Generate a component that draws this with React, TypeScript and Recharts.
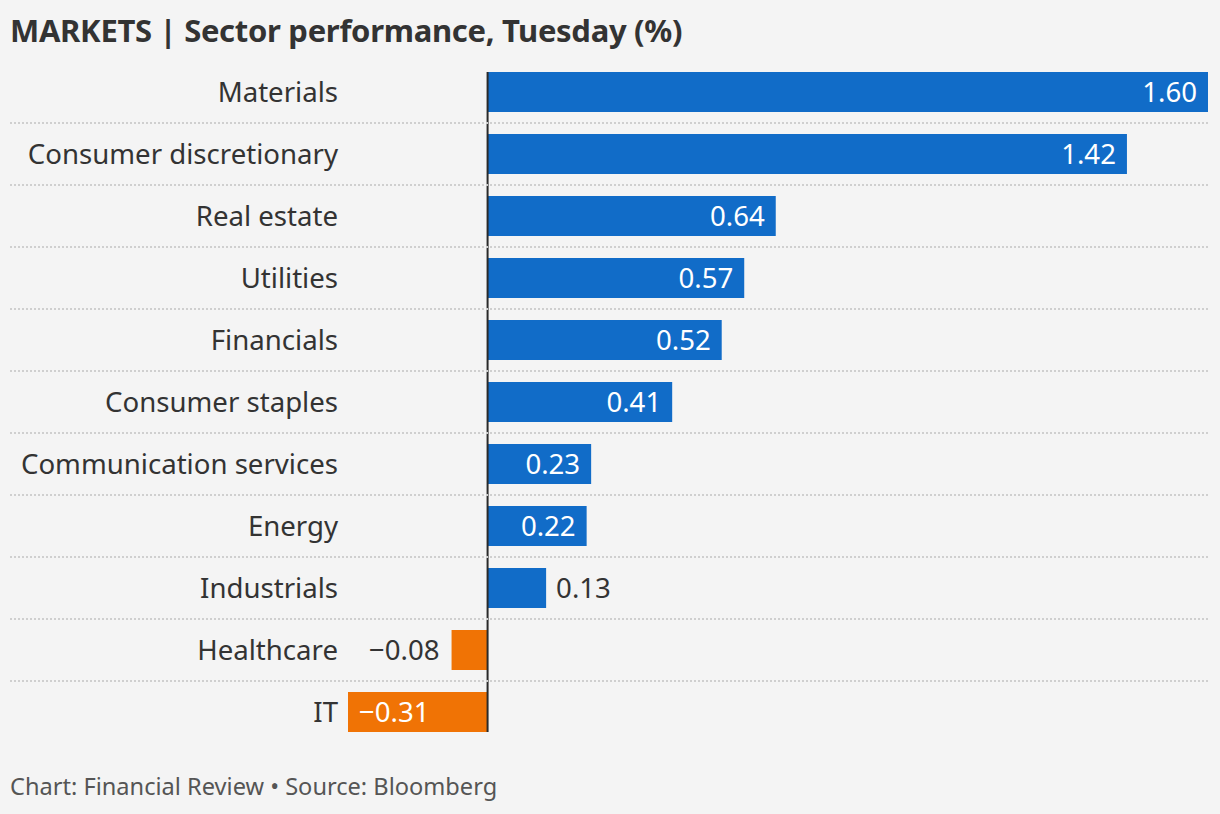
import React from "react";
import { BarChart, Bar, XAxis, YAxis, Cell, LabelList, ReferenceLine } from "recharts";

const sectors = [
  "Materials",
  "Consumer discretionary",
  "Real estate",
  "Utilities",
  "Financials",
  "Consumer staples",
  "Communication services",
  "Energy",
  "Industrials",
  "Healthcare",
  "IT",
];
const changes = [1.6, 1.42, 0.64, 0.57, 0.52, 0.41, 0.23, 0.22, 0.13, -0.08, -0.31];

const data = sectors.map((name, i) => ({ name, value: changes[i] }));

const FONT = "'Noto Sans', 'DejaVu Sans', sans-serif";
const BLUE = "#116cc8";
const ORANGE = "#f07305";
const TEXT = "#333333";
const W = 1220;
const H = 814;
const TOP = 61;
const BOTTOM = 71;
const PLOT_H = H - TOP - BOTTOM;
const ROW_H = PLOT_H / sectors.length;

const fmt = (v: number) => (v < 0 ? "\u2212" : "") + Math.abs(v).toFixed(2);

const CategoryTick = (props: any) => {
  const { y, payload, index } = props;
  return (
    <g>
      {index > 0 && (
        <line
          x1={10}
          x2={1208}
          y1={y - ROW_H / 2}
          y2={y - ROW_H / 2}
          stroke="#cfcfcf"
          strokeWidth={2}
          strokeDasharray="2 2"
        />
      )}
      <text
        x={338}
        y={y}
        dy="0.35em"
        textAnchor="end"
        fill={TEXT}
        fontSize={27.6}
        fontFamily={FONT}
      >
        {payload.value}
      </text>
    </g>
  );
};

const ValueLabel = (props: any) => {
  const { x, y, width, height, value } = props;
  const left = Math.min(x, x + width);
  const right = Math.max(x, x + width);
  const w = right - left;
  const cy = y + height / 2;
  const fits = w > 80;
  const v = Number(value);
  let tx: number;
  let anchor: "start" | "end";
  let fill: string;
  if (v >= 0) {
    if (fits) {
      tx = right - 11;
      anchor = "end";
      fill = "#ffffff";
    } else {
      tx = right + 10;
      anchor = "start";
      fill = TEXT;
    }
  } else {
    if (fits) {
      tx = left + 11;
      anchor = "start";
      fill = "#ffffff";
    } else {
      tx = left - 12;
      anchor = "end";
      fill = TEXT;
    }
  }
  return (
    <text x={tx} y={cy} dy="0.35em" textAnchor={anchor} fill={fill} fontSize={27.6} fontFamily={FONT}>
      {fmt(v)}
    </text>
  );
};

const ZeroLine = (props: any) => {
  const { x1, x2, y1, y2 } = props;
  const top = Math.min(y1, y2);
  const bot = Math.max(y1, y2);
  return <line x1={x1} x2={x2} y1={top + 11} y2={bot - 11} stroke="#2a2a2a" strokeWidth={2} />;
};

export default function App() {
  return (
    <div
      style={{
        position: "fixed",
        left: 0,
        top: 0,
        width: W,
        height: H,
        background: "#f4f4f4",
        fontFamily: FONT,
        overflow: "hidden",
      }}
    >
      <div
        style={{
          position: "absolute",
          left: 10,
          top: 8,
          fontSize: 31,
          fontWeight: 700,
          color: "#333333",
          letterSpacing: -0.3,
          whiteSpace: "nowrap",
          lineHeight: "44px",
        }}
      >
        MARKETS | Sector performance, Tuesday (%)
      </div>
      <div style={{ position: "absolute", left: 0, top: 0 }}>
        <BarChart
          width={W}
          height={H}
          data={data}
          layout="vertical"
          margin={{ top: TOP, right: 12, bottom: BOTTOM, left: 0 }}
        >
          <XAxis type="number" domain={["dataMin", "dataMax"]} hide />
          <YAxis
            type="category"
            dataKey="name"
            width={348}
            axisLine={false}
            tickLine={false}
            tick={<CategoryTick />}
            interval={0}
          />
          <Bar dataKey="value" barSize={40} isAnimationActive={false}>
            {data.map((d, i) => (
              <Cell key={i} fill={d.value >= 0 ? BLUE : ORANGE} />
            ))}
            <LabelList dataKey="value" content={<ValueLabel />} />
          </Bar>
          <ReferenceLine x={0} shape={<ZeroLine />} ifOverflow="extendDomain" />
        </BarChart>
      </div>
      <div
        style={{
          position: "absolute",
          left: 10,
          top: 770,
          fontSize: 23.6,
          color: "#555555",
          whiteSpace: "nowrap",
          lineHeight: "32px",
        }}
      >
        Chart: Financial Review • Source: Bloomberg
      </div>
    </div>
  );
}
